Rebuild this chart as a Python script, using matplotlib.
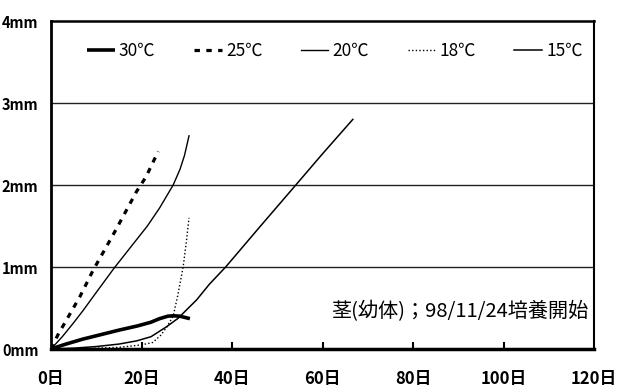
import matplotlib
matplotlib.use('Agg')
import matplotlib.pyplot as plt

plt.rcParams['font.family'] = ['Noto Sans CJK JP', 'DejaVu Sans']

# ---- data (days, stem length in mm) ----
days_30 = [0, 3, 7, 11, 15, 19, 22, 24, 25.8, 27, 28.5, 30.7]
len_30 = [0, 0.055, 0.12, 0.175, 0.23, 0.28, 0.325, 0.37, 0.40, 0.405, 0.40, 0.37]

days_25 = [0, 1.5, 6.4, 9.3, 14.1, 18.9, 21, 23.7]
len_25 = [0, 0.17, 0.64, 0.96, 1.43, 1.92, 2.1, 2.41]

days_20 = [0, 2.5, 5, 7.1, 10, 14, 18, 21.3, 24, 27, 28.5, 29.5, 30.5]
len_20 = [0, 0.15, 0.32, 0.47, 0.69, 0.99, 1.27, 1.5, 1.72, 2.0, 2.19, 2.36, 2.6]

days_18 = [0, 5, 10, 15, 20, 22.5, 24.3, 25.5, 27, 28, 29.2, 29.9, 30.5]
len_18 = [0, 0, 0.01, 0.02, 0.05, 0.08, 0.17, 0.26, 0.40, 0.65, 1.0, 1.3, 1.6]

days_15 = [0, 5, 10, 15, 19, 22.1, 25.5, 28.1, 30, 32.2, 35, 38.6, 46, 54.1, 60, 66.7]
len_15 = [0, 0.01, 0.03, 0.06, 0.10, 0.15, 0.27, 0.375, 0.48, 0.6, 0.79, 1.0,
          1.48, 2.0, 2.38, 2.8]

labels = ['30℃', '25℃', '20℃', '18℃', '15℃']
x_ticks = [0, 20, 40, 60, 80, 100, 120]
x_labels = ['0日', '20日', '40日', '60日', '80日', '100日', '120日']
y_ticks = [0, 1, 2, 3, 4]
y_labels = ['0mm', '1mm', '2mm', '3mm', '4mm']
note = '茎(幼体)；98/11/24培養開始'

fig = plt.figure(figsize=(6.2, 3.91), dpi=100)
ax = fig.add_axes([51/620, 1 - 349/391, (594 - 51)/620, (349 - 21)/391])

for y in [1, 2, 3]:
    ax.axhline(y, color='#222222', lw=1.0, zorder=1)

ax.plot(days_30, len_30, color='black', lw=2.6, solid_capstyle='butt', label=labels[0], zorder=3)
ax.plot(days_25, len_25, color='black', lw=2.3, linestyle=(0, (1.7, 2.0)), label=labels[1], zorder=3)
ax.plot(days_20, len_20, color='black', lw=1.0, label=labels[2], zorder=3)
ax.plot(days_18, len_18, color='black', lw=1.0, linestyle=(0, (1, 1.6)), label=labels[3], zorder=3)
ax.plot(days_15, len_15, color='black', lw=1.1, label=labels[4], zorder=3)

ax.set_xlim(0, 120)
ax.set_ylim(0, 4)
ax.set_xticks(x_ticks, labels=x_labels)
ax.set_yticks(y_ticks, labels=y_labels)

ax.tick_params(axis='x', direction='in', length=5, width=1.5, pad=15,
               labelsize=12, top=False)
ax.tick_params(axis='y', length=0, pad=9, labelsize=10.5)
for t in ax.get_xticklabels() + ax.get_yticklabels():
    t.set_fontweight('bold')
# hide tick marks at 0 and 120
ticks = ax.xaxis.get_major_ticks()
ticks[0].tick1line.set_visible(False)
ticks[-1].tick1line.set_visible(False)

ax.spines['left'].set_linewidth(2.0)
ax.spines['bottom'].set_linewidth(2.5)
ax.spines['top'].set_linewidth(1.8)
ax.spines['right'].set_linewidth(1.5)

leg = ax.legend(ncol=5, loc='center', bbox_to_anchor=(0.523, 0.908), frameon=False,
                fontsize=12.5, handlelength=1.6, handletextpad=0.25, columnspacing=2.2)

ax.text(0.99, 0.115, note, transform=ax.transAxes, ha='right', va='center',
        fontsize=14.5)

fig.savefig('out.png', dpi=100)
